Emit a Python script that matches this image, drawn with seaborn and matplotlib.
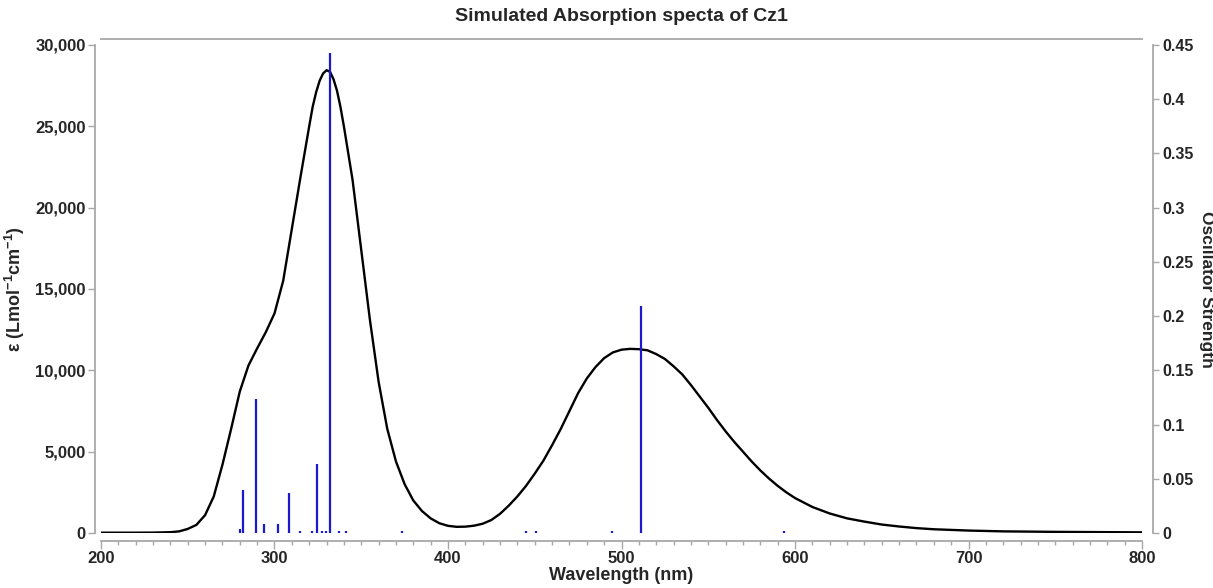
import matplotlib
matplotlib.use("Agg")
import matplotlib.pyplot as plt
import matplotlib.ticker as mticker
import seaborn as sns

# simulated spectrum, wavelength in nm, epsilon in L/(mol cm)
wavelength = [200, 210, 220, 230, 240, 245, 250, 255, 260, 265, 270, 275, 280, 285,
              290, 295, 300, 305, 310, 315, 320, 322, 324, 326, 328, 330, 332, 334,
              336, 338, 340, 345, 350, 355, 360, 365, 370, 375, 380, 385, 390, 395,
              400, 405, 410, 415, 420, 425, 430, 435, 440, 445, 450, 455, 460, 465,
              470, 475, 480, 485, 490, 495, 500, 505, 510, 515, 520, 525, 530, 535,
              540, 545, 550, 555, 560, 565, 570, 575, 580, 585, 590, 595, 600, 610,
              620, 630, 640, 650, 660, 670, 680, 700, 720, 750, 800]
epsilon = [20, 20, 20, 25, 50, 100, 250, 500, 1100, 2250, 4200, 6400, 8700, 10300,
           11350, 12350, 13500, 15500, 18700, 21900, 25000, 26200, 27100, 27800, 28250,
           28450, 28350, 27900, 27200, 26200, 25000, 21700, 17400, 13100, 9300, 6400,
           4400, 3000, 2000, 1350, 900, 600, 440, 380, 390, 450, 570, 800, 1180, 1680,
           2250, 2900, 3650, 4450, 5400, 6400, 7500, 8600, 9500, 10200, 10750, 11100,
           11270, 11320, 11300, 11230, 11000, 10700, 10250, 9750, 9100, 8400, 7700,
           6950, 6250, 5600, 5000, 4400, 3850, 3350, 2900, 2500, 2150, 1600, 1200, 900,
           700, 520, 400, 300, 230, 150, 100, 70, 40]

# excited states: wavelength (nm) and oscillator strength
state_wl = [280.3, 281.8, 289.2, 293.8, 302.2, 308.4, 314.7, 321.4, 324.7, 327.1,
            329.6, 332.2, 337.4, 341.2, 373.5, 445.0, 450.7, 494.5, 511.4, 593.6]
state_f = [0.004, 0.040, 0.124, 0.008, 0.008, 0.037, 0.0015, 0.0015, 0.064, 0.0015,
           0.0015, 0.443, 0.0015, 0.0015, 0.0015, 0.002, 0.002, 0.0015, 0.209, 0.0015]

left_ticks = [0, 5000, 10000, 15000, 20000, 25000, 30000]
right_ticks = [0, 0.05, 0.1, 0.15, 0.2, 0.25, 0.3, 0.35, 0.4, 0.45]

sns.set_style("white")
plt.rcParams['font.family'] = ['Liberation Sans', 'DejaVu Sans']
plt.rcParams['font.weight'] = 'bold'
plt.rcParams['mathtext.fontset'] = 'custom'
plt.rcParams['mathtext.rm'] = 'Liberation Sans:bold'
plt.rcParams['mathtext.bf'] = 'Liberation Sans:bold'

spine_col = '#a8a8a8'

fig = plt.figure(figsize=(12.13, 5.88), dpi=100)
ax = fig.add_axes([101 / 1213, 55 / 588, 1041 / 1213, 488 / 588])

sns.lineplot(x=wavelength, y=epsilon, ax=ax, color='black', linewidth=1.7)
ax.set_xlim(200, 800)
ax.set_ylim(0, 30000)
ax.set_yticks(left_ticks)
ax.yaxis.set_major_formatter(mticker.StrMethodFormatter('{x:,.0f}'))
ax.xaxis.set_major_locator(mticker.MultipleLocator(100))
ax.xaxis.set_minor_locator(mticker.MultipleLocator(10))

ax.spines['right'].set_visible(False)
ax.spines['left'].set_position(('outward', 4))
ax.spines['bottom'].set_position(('outward', 6))
ax.spines['top'].set_position(('outward', 4))
for s in ['left', 'bottom', 'top']:
    ax.spines[s].set_color(spine_col)
    ax.spines[s].set_linewidth(1.3)

ax.tick_params(axis='y', which='major', direction='out', length=5, width=1, color=spine_col,
               labelsize=12, pad=2, left=True)
ax.tick_params(axis='x', which='major', direction='out', length=6, width=1, color=spine_col,
               labelsize=12, pad=1, bottom=True)
ax.tick_params(axis='x', which='minor', direction='out', length=3, width=1, color=spine_col,
               bottom=True)

ax.set_xlabel('Wavelength (nm)', fontsize=13, fontweight='bold', labelpad=1)
ax.set_ylabel(r'ε (Lmol$^{\mathbf{-1}}$cm$^{\mathbf{-1}}$)', fontsize=13,
              fontweight='bold', labelpad=6)
ax.set_title('Simulated Absorption specta of Cz1', fontsize=14, fontweight='bold', pad=17)

ax2 = ax.twinx()
ax2.vlines(state_wl, 0, state_f, color='#1a1acc', linewidth=1.6)
ax2.set_ylim(0, 0.45)
ax2.set_yticks(right_ticks)
ax2.yaxis.set_major_formatter(mticker.FuncFormatter(lambda v, p: f'{v:g}'))
for s in ['left', 'bottom', 'top']:
    ax2.spines[s].set_visible(False)
ax2.spines['right'].set_position(('outward', 8))
ax2.spines['right'].set_color(spine_col)
ax2.spines['right'].set_linewidth(1.3)
ax2.tick_params(axis='y', direction='out', length=4, width=1, color=spine_col,
                labelsize=11.5, pad=3, right=True)
ax2.set_ylabel('Oscillator Strength', fontsize=12.5, fontweight='bold', rotation=-90,
               va='center', ha='center')
ax2.yaxis.set_label_coords(1.0615, 0.5)
ax2.grid(False)
ax.grid(False)

fig.savefig('out.png', dpi=100)
